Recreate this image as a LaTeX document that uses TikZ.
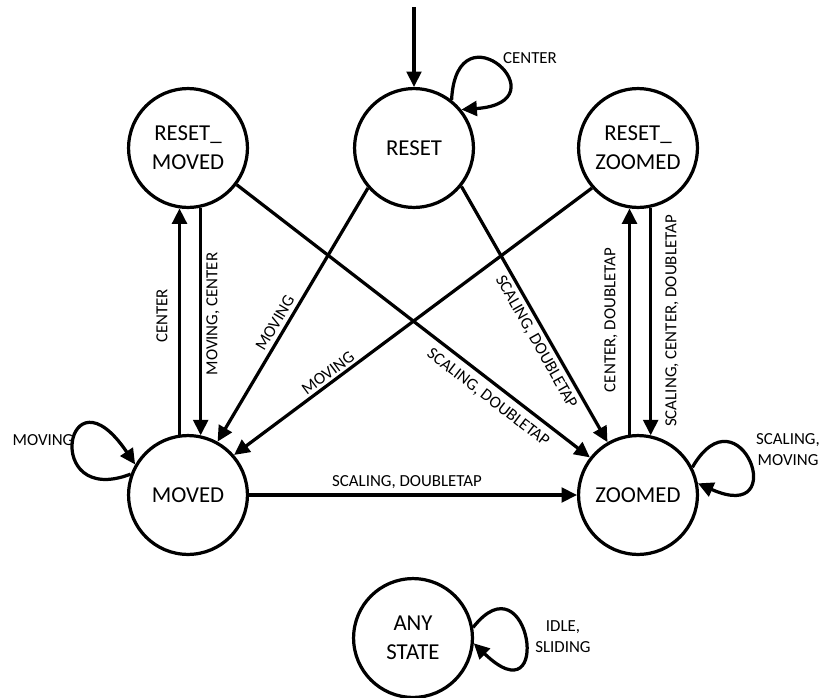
\documentclass[tikz,border=0pt]{standalone}
\usepackage[svgnames]{xcolor}
\usepackage{fontspec}
\setmainfont{Carlito}
\usetikzlibrary{arrows.meta}
\tikzset{>={Triangle[length=11pt,width=10.5pt]}}
\tikzstyle{none}=[inner sep=0pt]
\tikzstyle{state}=[circle,draw=Black,line width=2.3pt,minimum size=2.97cm,inner sep=0pt,align=center,font=\fontsize{16.2}{20.6}\selectfont]
\tikzstyle{edgetext}=[inner sep=0pt,align=center,font=\fontsize{12}{15}\selectfont]
\tikzstyle{arrow}=[->,draw=Black,line width=2.3pt]
\pgfdeclarelayer{edgelayer}
\pgfdeclarelayer{nodelayer}
\pgfsetlayers{edgelayer,nodelayer,main}

\begin{document}
\begin{tikzpicture}[x=0.025cm, y=0.025cm]
	\useasboundingbox (0,0) rectangle (821,-697);
	\begin{pgfonlayer}{nodelayer}
		\node [style=state] (reset) at (414, -148) {RESET};
		\node [style=state] (resetmoved) at (188, -148) {RESET\_\\MOVED};
		\node [style=state] (resetzoomed) at (638, -148) {RESET\_\\ZOOMED};
		\node [style=state] (moved) at (188, -495) {MOVED};
		\node [style=state] (zoomed) at (638, -495) {ZOOMED};
		\node [style=state] (anystate) at (413, -638) {ANY\\STATE};
		\coordinate (top) at (414, -7);

		\node [style=edgetext] (lcenter) at (530, -58) {CENTER};
		\node [style=edgetext] (lmovedloop) at (43, -440) {MOVING};
		\node [style=edgetext] (lzoomedloop) at (788, -450) {SCALING,\\MOVING};
		\node [style=edgetext] (lanyloop) at (563, -637) {IDLE,\\SLIDING};
		\node [style=edgetext, rotate=90] (lup) at (162, -316) {CENTER};
		\node [style=edgetext, rotate=90] (ldown) at (213, -314) {MOVING, CENTER};
		\node [style=edgetext, rotate=59.4] (lresetmoved) at (275, -323) {MOVING};
		\node [style=edgetext, rotate=36.7] (lzoommoved) at (328, -373) {MOVING};
		\node [style=edgetext, rotate=-37.6] (lmovezoom) at (488, -398) {SCALING, DOUBLETAP};
		\node [style=edgetext, rotate=-60.5] (lresetzoom) at (536, -342) {SCALING, DOUBLETAP};
		\node [style=edgetext, rotate=90] (lzup) at (611, -320) {CENTER, DOUBLETAP};
		\node [style=edgetext, rotate=90] (lzdown) at (672, -321) {SCALING, CENTER, DOUBLETAP};
		\node [style=edgetext] (lacross) at (407, -482) {SCALING, DOUBLETAP};
	\end{pgfonlayer}
	\begin{pgfonlayer}{edgelayer}
		\draw [style=arrow] (top) to (reset);
		\draw [style=arrow] (reset.52) to [out=87, in=4, out distance=2.45cm, in distance=2.6cm] (reset.39);

		% left column
		\draw [style=arrow] (moved.98) to (resetmoved.-98);
		\draw [style=arrow] (resetmoved.-78) to (moved.78);
		\draw [style=arrow] (moved.160) to [out=201, in=124, out distance=2.4cm, in distance=3.1cm] (moved.150);

		% crossing lines
		\draw [style=arrow] (reset.221) to (moved.61);
		\draw [style=arrow] (resetzoomed.221) to (moved.41);
		\draw [style=arrow] (resetmoved.-37) to (zoomed.142);
		\draw [style=arrow] (reset.-39) to (zoomed.120);
		\draw [style=arrow] (moved) to (zoomed);

		% right column
		\draw [style=arrow] (zoomed.98) to (resetzoomed.-98);
		\draw [style=arrow] (resetzoomed.-78) to (zoomed.78);
		\draw [style=arrow] (zoomed.27) to [out=60, in=-24, out distance=2.35cm, in distance=2.6cm] (zoomed.11);

		\draw [style=arrow] (anystate.10) to [out=52, in=-44, out distance=2.3cm, in distance=2.8cm] (anystate.-5);
	\end{pgfonlayer}
\end{tikzpicture}
\end{document}
